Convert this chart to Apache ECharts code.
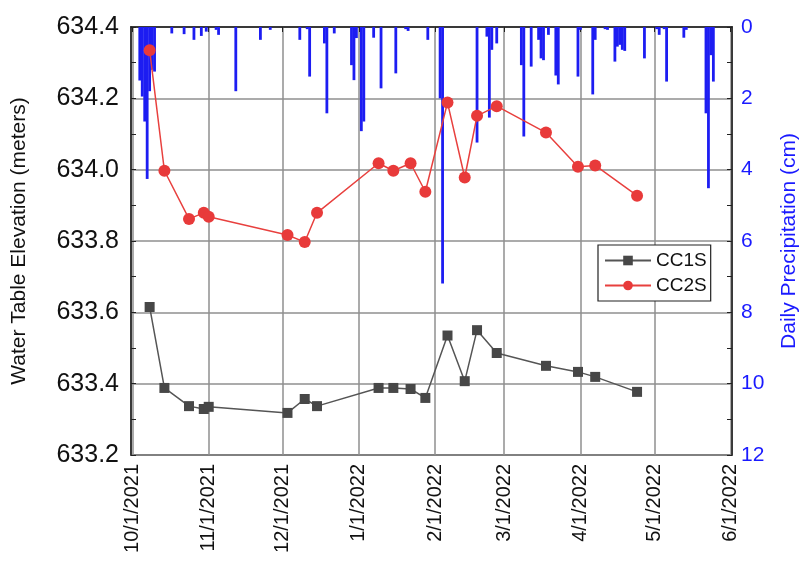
<!DOCTYPE html>
<html>
    <head>
        <meta charset="utf-8">
        <title>Water table and precipitation</title>
        <script src="https://cdn.jsdelivr.net/npm/echarts@6/dist/echarts.min.js"></script>
        <style>
            html, body { margin: 0; padding: 0; background: #fff; }
            #chart1 { width: 803px; height: 569px; }
        </style>
    </head>
    <body>
        <div id="chart1"></div>
        <script type="text/javascript">
        // 观测日期 (两口井同一天测)
        var obsDates = ['2021-10-08', '2021-10-14', '2021-10-24', '2021-10-30', '2021-11-01',
            '2021-12-03', '2021-12-10', '2021-12-15', '2022-01-09', '2022-01-15',
            '2022-01-22', '2022-01-28', '2022-02-06', '2022-02-13', '2022-02-18',
            '2022-02-26', '2022-03-18', '2022-03-31', '2022-04-07', '2022-04-24'];
        var cc1s = [633.615, 633.388, 633.337, 633.329, 633.335,
            633.318, 633.357, 633.337, 633.388, 633.388,
            633.385, 633.360, 633.535, 633.407, 633.550,
            633.486, 633.450, 633.433, 633.419, 633.377];
        var cc2s = [634.335, 633.997, 633.862, 633.879, 633.868,
            633.817, 633.797, 633.879, 634.018, 633.997,
            634.018, 633.938, 634.188, 633.978, 634.151,
            634.178, 634.104, 634.008, 634.012, 633.927];

        // 日降水 (cm)
        var rainDates = ['2021-10-04', '2021-10-05', '2021-10-06', '2021-10-07', '2021-10-08',
            '2021-10-09', '2021-10-10', '2021-10-17', '2021-10-22', '2021-10-26',
            '2021-10-29', '2021-10-31', '2021-11-04', '2021-11-05', '2021-11-12',
            '2021-11-22', '2021-11-26', '2021-12-08', '2021-12-11', '2021-12-12',
            '2021-12-18', '2021-12-19', '2021-12-22', '2021-12-29', '2021-12-30',
            '2021-12-31', '2022-01-02', '2022-01-03', '2022-01-07', '2022-01-10',
            '2022-01-16', '2022-01-20', '2022-01-21', '2022-01-29', '2022-02-03',
            '2022-02-04', '2022-02-18', '2022-02-22', '2022-02-23', '2022-02-24',
            '2022-02-26', '2022-03-08', '2022-03-09', '2022-03-12', '2022-03-15',
            '2022-03-16', '2022-03-17', '2022-03-19', '2022-03-22', '2022-03-23',
            '2022-03-31', '2022-04-01', '2022-04-06', '2022-04-07', '2022-04-11',
            '2022-04-12', '2022-04-15', '2022-04-16', '2022-04-17', '2022-04-18',
            '2022-04-19', '2022-04-27', '2022-05-02', '2022-05-03', '2022-05-05',
            '2022-05-06', '2022-05-13', '2022-05-14', '2022-05-22', '2022-05-23',
            '2022-05-24', '2022-05-25'];
        var rainCm = [1.50, 1.95, 2.65, 4.26, 1.80,
            1.20, 1.25, 0.18, 0.20, 0.36,
            0.25, 0.13, 0.08, 0.22, 1.80,
            0.36, 0.08, 0.36, 0.06, 1.39,
            0.46, 2.42, 0.18, 1.07, 1.49,
            0.31, 2.92, 2.65, 0.30, 1.72,
            1.30, 0.06, 0.11, 0.36, 2.00,
            7.19, 3.24, 0.27, 2.54, 0.64,
            0.46, 1.07, 3.07, 1.11, 0.36,
            0.88, 0.93, 0.22, 1.36, 1.61,
            1.39, 0.08, 1.89, 0.36, 0.06,
            0.08, 0.97, 0.55, 0.50, 0.64,
            0.67, 0.88, 0.06, 0.22, 0.06,
            1.53, 0.30, 0.08, 2.42, 4.52,
            0.79, 1.53];

        function pairs(xs, ys) {
            return xs.map(function (x, i) { return [x, ys[i]]; });
        }

        var myChart1 = echarts.init(document.getElementById('chart1'));

        myChart1.setOption({
            animation: false,
            grid: {
                left: 131, right: 71, top: 27, bottom: 114,
                outerBoundsMode: 'none',
                containLabel: false,
                show: true, borderColor: '#222', borderWidth: 1.5
            },
            legend: {
                data: ['CC1S', 'CC2S'],
                orient: 'vertical',
                left: 598, top: 245,
                itemWidth: 46, itemHeight: 12, itemGap: 6,
                padding: [6, 4, 6, 6],
                borderColor: '#222', borderWidth: 1.2,
                backgroundColor: '#fff',
                textStyle: { fontSize: 19, color: '#111', fontFamily: 'Liberation Sans' }
            },
            xAxis: {
                type: 'time',
                min: '2021-10-01',
                max: '2022-06-01',
                splitNumber: 8,
                minInterval: 28 * 86400000,
                axisLine: { lineStyle: { color: '#222', width: 1.5 } },
                axisTick: { show: true, length: 5, lineStyle: { color: '#222' } },
                splitLine: { show: true, lineStyle: { color: '#8f8f8f', width: 1.5 } },
                axisLabel: {
                    rotate: 90,
                    fontSize: 20,
                    color: '#111',
                    fontFamily: 'Liberation Sans',
                    hideOverlap: false,
                    margin: 9,
                    formatter: function (v) {
                        var d = new Date(v);
                        return (d.getMonth() + 1) + '/' + d.getDate() + '/' + d.getFullYear();
                    }
                }
            },
            yAxis: [{
                type: 'value',
                min: 633.2, max: 634.4, interval: 0.2,
                name: 'Water Table Elevation (meters)',
                nameLocation: 'middle',
                nameGap: 101,
                nameTextStyle: { fontSize: 21, color: '#111', fontFamily: 'Liberation Sans' },
                axisLine: { show: true, lineStyle: { color: '#222', width: 1.5 } },
                axisTick: { show: true, inside: true, length: 5, lineStyle: { color: '#222' } },
                minorTick: { show: true, splitNumber: 2, length: 5, lineStyle: { color: '#222' } },
                splitLine: { show: true, lineStyle: { color: '#8f8f8f', width: 1.5 } },
                axisLabel: {
                    fontSize: 25, color: '#111', fontFamily: 'Liberation Sans', margin: 12,
                    formatter: function (v) { return v.toFixed(1); }
                }
            }, {
                type: 'value',
                inverse: true,
                min: 0, max: 12, interval: 2,
                name: 'Daily Precipitation (cm)',
                nameLocation: 'middle',
                nameGap: 47,
                nameRotate: 90,
                nameTextStyle: { fontSize: 21, color: '#1a1aff', fontFamily: 'Liberation Sans' },
                axisLine: { show: true, lineStyle: { color: '#222', width: 1.5 } },
                axisTick: { show: true, inside: true, length: 5, lineStyle: { color: '#222' } },
                minorTick: { show: true, splitNumber: 2, length: 5, lineStyle: { color: '#222' } },
                splitLine: { show: false },
                axisLabel: { fontSize: 21, color: '#1a1aff', fontFamily: 'Liberation Sans', margin: 9 }
            }],
            series: [{
                name: 'Precipitation',
                type: 'bar',
                yAxisIndex: 1,
                barWidth: 2.8,
                itemStyle: { color: '#1d1df2' },
                data: pairs(rainDates, rainCm),
                z: 1
            }, {
                name: 'CC1S',
                type: 'line',
                yAxisIndex: 0,
                symbol: 'rect',
                symbolSize: 10,
                lineStyle: { color: '#555', width: 1.5 },
                itemStyle: { color: '#474747' },
                data: pairs(obsDates, cc1s),
                z: 3
            }, {
                name: 'CC2S',
                type: 'line',
                yAxisIndex: 0,
                symbol: 'circle',
                symbolSize: 12,
                lineStyle: { color: '#e8403e', width: 1.5 },
                itemStyle: { color: '#e83a3a' },
                data: pairs(obsDates, cc2s),
                z: 3
            }]
        });
        </script>
    </body>
</html>
